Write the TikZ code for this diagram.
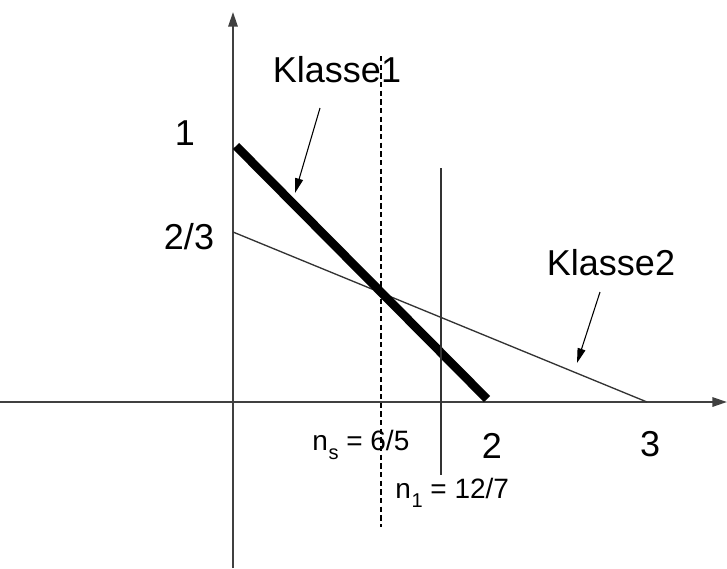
\documentclass[tikz,border=0pt]{standalone}
\usepackage{fontspec}
\setmainfont{Liberation Sans}
\usetikzlibrary{arrows.meta}
\newcommand{\lowsub}[1]{\kern0.5pt\raisebox{-0.33em}{\fontsize{15}{15}\selectfont #1}}
\begin{document}
\begin{tikzpicture}[x=0.75pt,y=-0.75pt,
  axis/.style={line width=1.6pt,draw=black!75,-{Triangle[length=11pt,width=7pt]}},
  thin line/.style={line width=1pt,draw=black!80},
  heavy/.style={line width=6.5pt,draw=black},
  pointer/.style={line width=0.8pt,-{Triangle[length=11pt,width=6pt]}},
  biglabel/.style={font=\fontsize{27}{30}\selectfont,inner sep=0pt},
  smalllabel/.style={font=\fontsize{21}{24}\selectfont,inner sep=0pt}]
\useasboundingbox (0,0) rectangle (727,568);
% coordinates
\coordinate (xs) at (0,402);
\coordinate (xe) at (727,402);
\coordinate (ys) at (233,568);
\coordinate (ye) at (233,12);
\coordinate (k1a) at (236,146);
\coordinate (k1b) at (487,399);
\coordinate (k2a) at (233,232);
\coordinate (k2b) at (647,402);
\coordinate (dsa) at (381,56);
\coordinate (dsb) at (381,527);
\coordinate (vla) at (441,168);
\coordinate (vlb) at (441,475);
% axes
\draw[axis] (xs) -- (xe);
\draw[axis] (ys) -- (ye);
% lines
\draw[thin line] (k2a) -- (k2b);
\draw[heavy] (k1a) -- (k1b);
\draw[line width=0.8pt,dash pattern=on 4pt off 2.5pt] (dsa) -- (dsb);
\draw[thin line] (vla) -- (vlb);
% labels
\node[biglabel] (lk1) at (337,70) {Klasse1};
\node[biglabel] (lk2) at (611,263) {Klasse2};
\node[biglabel] (l1) at (185,133) {1};
\node[biglabel] (l23) at (189,237) {2/3};
\node[biglabel] (l2) at (492,446) {2};
\node[biglabel] (l3) at (650,444) {3};
\node[smalllabel,anchor=base west] (lns) at (312,450) {n\lowsub{s} = 6/5};
\node[smalllabel,anchor=base west] (ln1) at (395,498) {n\lowsub{1} = 12/7};
% pointers
\coordinate (p1s) at (320,108);
\coordinate (p1e) at (295,193);
\coordinate (p2s) at (600,292);
\coordinate (p2e) at (577,363);
\draw[pointer] (p1s) -- (p1e);
\draw[pointer] (p2s) -- (p2e);
\end{tikzpicture}
\end{document}
